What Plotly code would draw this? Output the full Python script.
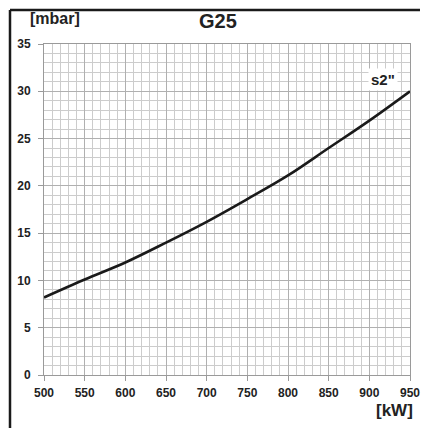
import plotly.graph_objects as go

power_kw = [500, 550, 600, 650, 700, 750, 800, 850, 900, 950]
pressure_mbar = [8.2, 10.1, 11.9, 14.0, 16.2, 18.6, 21.1, 24.0, 26.9, 30.0]
x_ticks = [500, 550, 600, 650, 700, 750, 800, 850, 900, 950]
y_ticks = [0, 5, 10, 15, 20, 25, 30, 35]

FONT = "Liberation Sans, Arial, sans-serif"

fig = go.Figure()
fig.add_trace(go.Scatter(x=power_kw, y=pressure_mbar, mode="lines",
                         line=dict(color="#1a1a1a", width=2.6, shape="spline"),
                         showlegend=False, hoverinfo="skip"))

axis_common = dict(showline=True, linecolor="#9a9a9a", linewidth=1,
                   ticks="outside", ticklen=5, tickcolor="#9a9a9a",
                   gridcolor="#b0b0b0", gridwidth=1, zeroline=False,
                   tickfont=dict(family=FONT, size=12, color="#222222", weight="bold"),
                   mirror=True, automargin=False)

fig.update_xaxes(range=[500, 950], tickvals=x_ticks, ticktext=[str(v) for v in x_ticks],
                 minor=dict(dtick=10, showgrid=True, gridcolor="#cccccc", gridwidth=1, ticks=""),
                 ticklabelstandoff=2, **axis_common)
fig.update_yaxes(range=[0, 35], tickvals=y_ticks, ticktext=[str(v) for v in y_ticks],
                 minor=dict(dtick=1, showgrid=True, gridcolor="#cccccc", gridwidth=1, ticks=""),
                 ticklabelstandoff=5, **axis_common)

fig.update_layout(
    width=425, height=428, autosize=False,
    margin=dict(l=44, r=15, t=44, b=53, pad=0),
    paper_bgcolor="white", plot_bgcolor="white",
    font=dict(family=FONT, color="#222222"),
    shapes=[
        dict(type="line", xref="paper", yref="paper", x0=-0.0929, x1=1.0273,
             y0=1.1027, y1=1.1027, line=dict(color="#1a1a1a", width=2.5)),
        dict(type="line", xref="paper", yref="paper", x0=-0.0929, x1=-0.0929,
             y0=1.1027, y1=-0.17, line=dict(color="#1a1a1a", width=2.5)),
    ],
    annotations=[
        dict(text="<b>G25</b>", xref="paper", yref="paper", x=0.475, y=1.07,
             showarrow=False, font=dict(size=20, family=FONT, color="#222222"),
             xanchor="center", yanchor="middle"),
        dict(text="<b>[mbar]</b>", xref="paper", yref="paper", x=0.03, y=1.076,
             showarrow=False, font=dict(size=16, family=FONT, color="#222222"),
             xanchor="center", yanchor="middle"),
        dict(text="<b>[kW]</b>", xref="paper", yref="paper", x=1.013, y=-0.108,
             showarrow=False, font=dict(size=17, family=FONT, color="#222222"),
             xanchor="right", yanchor="middle"),
        dict(text="<b>s2\"</b>", xref="x", yref="y", x=917, y=31.2,
             showarrow=False, font=dict(size=15, family=FONT, color="#222222"),
             bgcolor="white", borderpad=2, xanchor="center", yanchor="middle"),
    ],
)

fig.write_html("out.html", config={"responsive": False, "displayModeBar": False})
